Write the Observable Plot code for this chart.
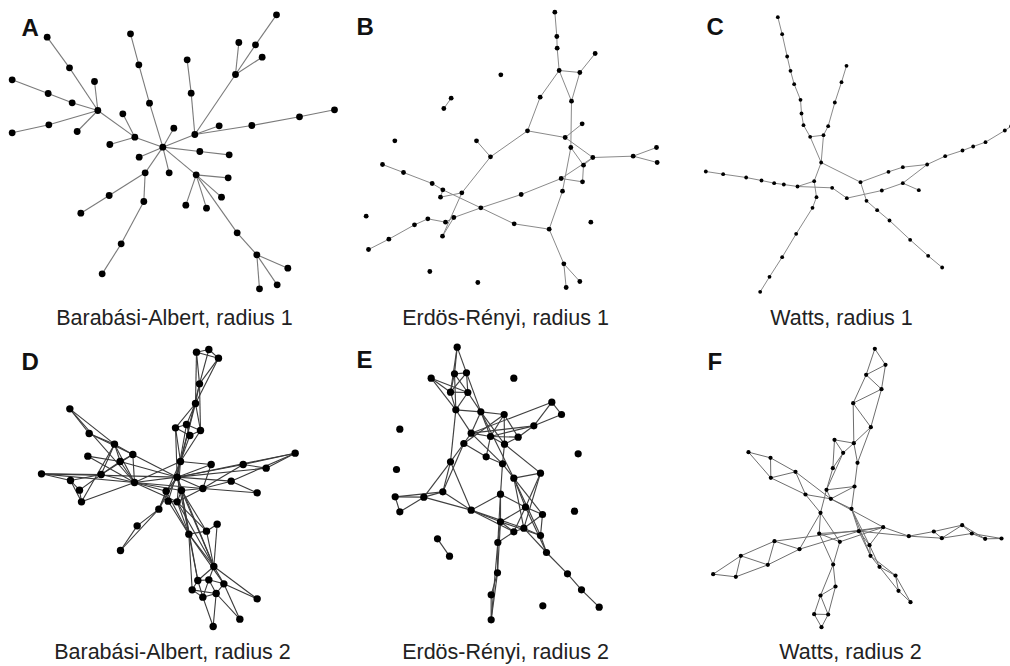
<!DOCTYPE html>
<html><head><meta charset="utf-8">
<script src="https://cdn.jsdelivr.net/npm/d3@7"></script>
<script src="https://cdn.jsdelivr.net/npm/@observablehq/plot@0.6"></script>
<style>body{margin:0;background:#fff}#chart{width:1010px;height:666px}</style>
</head><body><div id="chart"></div>
<script>
// Node layouts in layout units (1 unit = 1/3 px), per panel
const nodesA = [[487,440],[292,330],[140,110],[207,202],[35,238],[143,279],[215,307],[282,243],[35,397],[145,373],[230,393],[403,410],[367,340],[328,432],[390,100],[415,193],[447,308],[560,178],[572,278],[583,402],[705,222],[715,126],[765,133],[828,43],[785,170],[656,376],[754,375],[897,349],[1002,328],[520,383],[598,453],[686,463],[416,470],[506,517],[434,517],[326,585],[241,638],[430,603],[362,730],[305,820],[587,523],[683,532],[663,590],[556,614],[618,623],[710,697],[769,763],[862,803],[830,853],[777,865]];
const edgesA = [[2,3],[3,1],[4,5],[5,6],[6,1],[7,1],[8,9],[9,1],[10,1],[1,11],[11,0],[12,11],[13,11],[14,15],[15,16],[16,0],[17,18],[18,19],[19,0],[19,20],[20,21],[20,22],[22,23],[20,24],[19,25],[19,26],[26,27],[27,28],[0,29],[0,30],[30,31],[0,32],[0,33],[0,34],[34,35],[35,36],[34,37],[37,38],[38,39],[0,40],[40,41],[40,42],[40,43],[40,44],[40,45],[45,46],[46,47],[46,48],[46,49]];

const nodesB = [[613,35],[619,108],[620,143],[626,210],[688,216],[734,159],[663,302],[569,290],[451,223],[302,293],[280,324],[531,391],[644,411],[695,370],[661,441],[727,471],[848,467],[918,441],[920,486],[699,494],[696,544],[632,534],[636,572],[512,582],[596,686],[491,670],[391,622],[420,469],[378,421],[133,421],[96,492],[159,516],[245,549],[277,568],[270,590],[334,577],[310,651],[285,665],[276,707],[232,655],[192,673],[115,716],[54,747],[47,647],[238,813],[382,846],[640,790],[688,843],[647,861],[721,665]];
const edgesB = [[0,1],[1,2],[2,3],[3,4],[4,5],[3,6],[4,6],[3,7],[7,11],[11,27],[27,28],[27,35],[35,38],[36,38],[36,37],[37,39],[39,40],[40,41],[41,42],[36,26],[9,10],[11,12],[12,13],[12,15],[6,14],[14,19],[14,22],[22,24],[15,16],[16,17],[16,18],[15,19],[19,20],[20,21],[21,15],[21,23],[23,26],[30,31],[31,32],[32,33],[33,26],[26,25],[25,24],[33,34],[34,35],[24,46],[46,48],[46,47]];

const nodesC = [[262,50],[275,101],[290,168],[300,211],[311,251],[330,298],[333,339],[339,374],[359,409],[399,404],[413,377],[433,306],[453,245],[468,196],[392,486],[371,542],[378,590],[366,622],[317,700],[275,770],[237,829],[209,874],[46,513],[98,521],[167,531],[213,540],[251,548],[280,552],[321,558],[425,562],[469,593],[510,545],[528,601],[560,629],[597,660],[659,718],[713,766],[755,801],[574,570],[637,548],[685,569],[710,492],[637,500],[594,514],[764,467],[816,450],[848,438],[885,425],[943,390],[962,377]];
const edgesC = [[0,1],[1,2],[2,3],[3,4],[4,5],[5,6],[6,7],[7,8],[8,9],[9,10],[10,11],[11,12],[12,13],[8,14],[9,14],[14,31],[14,15],[15,28],[15,16],[16,17],[17,18],[18,19],[19,20],[20,21],[22,23],[23,24],[24,25],[25,26],[26,27],[27,28],[28,29],[29,30],[30,38],[38,39],[39,40],[39,41],[31,43],[43,42],[42,41],[41,44],[44,45],[45,46],[46,47],[47,48],[48,49],[31,32],[32,33],[33,34],[34,35],[35,36],[36,37]];

const nodesD = [[588,65],[625,57],[654,83],[597,160],[585,219],[525,292],[558,282],[600,300],[568,315],[208,235],[266,309],[342,341],[262,377],[397,372],[359,393],[123,430],[210,450],[237,479],[243,514],[302,432],[402,456],[540,393],[530,440],[543,480],[497,482],[503,512],[530,514],[475,536],[607,474],[632,402],[728,402],[797,413],[884,368],[692,452],[770,487],[410,586],[360,660],[565,611],[618,602],[650,581],[640,708],[592,750],[625,748],[670,760],[575,778],[607,800],[647,789],[770,805],[718,866],[638,888]];
const edgesD = [[0,1],[1,2],[0,2],[0,3],[1,3],[2,3],[2,4],[0,4],[3,4],[4,5],[4,6],[4,7],[3,7],[5,6],[6,7],[5,8],[8,7],[6,8],[4,21],[5,21],[5,22],[6,22],[8,21],[7,21],[3,21],
[9,10],[9,11],[9,20],[10,11],[10,13],[11,13],[11,14],[11,20],[11,18],[12,14],[12,20],[13,14],[13,20],[14,20],[13,22],[14,22],[15,16],[15,19],[15,22],[15,20],[16,17],[16,19],[17,18],[16,18],[17,19],[18,20],[19,20],[19,14],[19,13],[11,19],
[20,22],[20,24],[20,26],[20,28],[20,23],[20,21],[21,22],[22,23],[22,24],[23,26],[24,25],[25,26],[24,27],[27,35],[35,36],[27,36],[27,22],[27,21],[25,21],[26,21],[23,28],[22,28],[26,28],[21,29],[22,29],[28,29],[28,30],[22,30],[30,31],[30,32],[31,32],[33,32],[28,33],[33,34],[28,34],[22,33],[22,32],[22,31],
[22,37],[24,37],[23,37],[26,37],[26,38],[23,38],[37,38],[38,39],[39,40],[37,40],[23,40],[26,40],[22,40],[37,41],[37,44],[40,41],[40,42],[40,43],[41,42],[42,43],[41,44],[44,45],[45,46],[46,43],[42,46],[42,45],[41,45],[44,46],[43,47],[40,47],[43,48],[46,48],[45,49],[46,49],[37,43],[38,40],[23,41],[25,37]];

const nodesE = [[320,50],[312,130],[348,127],[242,143],[300,185],[352,186],[316,238],[391,244],[461,252],[490,143],[604,215],[633,252],[550,286],[362,308],[420,318],[503,320],[462,341],[340,339],[407,379],[456,400],[300,394],[148,296],[138,417],[683,370],[490,443],[570,428],[450,491],[277,484],[220,500],[134,499],[148,544],[362,539],[525,530],[576,552],[450,574],[490,604],[520,593],[570,615],[442,636],[588,666],[651,730],[693,778],[746,830],[441,727],[422,793],[422,868],[261,625],[297,677],[577,826],[672,542]];
const edgesE = [[0,1],[0,2],[0,4],[1,2],[1,4],[1,5],[2,5],[2,4],[3,4],[3,5],[3,6],[4,5],[4,6],[5,6],[5,7],[1,6],[6,7],[2,7],[6,13],[6,20],[7,13],[7,14],[7,8],[7,16],[7,24],[8,14],[8,15],[8,16],[13,14],[13,17],[13,12],[14,15],[14,16],[14,12],[15,16],[15,12],[12,10],[12,11],[10,11],[13,10],[17,20],[17,18],[17,8],[18,19],[18,14],[16,19],[19,24],[19,26],[13,19],[20,27],[20,28],[20,31],[27,29],[27,28],[28,29],[29,30],[30,28],[28,31],[27,31],[17,27],[31,26],[31,34],[31,36],[26,34],[26,32],[24,25],[24,32],[24,36],[24,33],[25,32],[25,36],[16,25],[32,33],[32,35],[32,34],[33,37],[34,35],[34,38],[35,36],[36,37],[36,33],[34,37],[35,38],[37,39],[36,39],[32,39],[39,40],[40,41],[41,42],[38,43],[34,43],[43,44],[44,45],[38,45],[43,45],[26,38],[31,35],[46,47],[24,37]];

const nodesF = [[553,55],[585,103],[527,133],[573,176],[488,218],[541,290],[490,338],[432,328],[458,367],[501,397],[427,413],[492,468],[408,478],[421,505],[483,535],[390,547],[174,365],[240,382],[241,442],[315,424],[345,492],[578,590],[505,602],[386,609],[448,634],[537,644],[540,676],[655,617],[730,603],[754,623],[815,584],[844,609],[884,625],[933,624],[252,632],[327,656],[151,676],[232,703],[68,731],[136,739],[428,702],[567,709],[615,735],[624,781],[660,815],[435,768],[390,795],[371,851],[413,852],[393,890]];
const edgesF = [[0,1],[0,2],[1,2],[1,3],[2,3],[2,4],[3,4],[3,5],[4,5],[4,6],[5,6],[5,9],[6,7],[6,8],[7,8],[7,10],[8,10],[6,9],[8,12],[9,11],[10,12],[11,14],[11,13],[11,12],[12,13],[12,15],[16,17],[16,18],[17,18],[17,19],[18,19],[18,20],[19,20],[19,13],[20,13],[13,14],[13,21],[14,22],[14,25],[14,26],[15,23],[15,20],[15,35],[15,24],[23,24],[23,40],[24,40],[23,22],[24,21],[21,22],[21,27],[22,27],[27,28],[27,29],[28,29],[28,30],[29,30],[29,31],[30,31],[31,32],[30,32],[31,33],[32,33],[34,21],[35,22],[34,35],[34,36],[34,37],[35,37],[36,37],[36,38],[36,39],[37,39],[38,39],[40,45],[40,46],[45,46],[46,47],[46,48],[47,48],[47,49],[48,49],[45,48],[25,26],[25,41],[26,41],[26,42],[41,42],[41,43],[42,43],[42,44],[43,44],[22,25],[22,26],[21,25]];

const panelKeys = ["A","B","C","D","E","F"];
const panelTitles = ["Barabási-Albert, radius 1","Erdös-Rényi, radius 1","Watts, radius 1","Barabási-Albert, radius 2","Erdös-Rényi, radius 2","Watts, radius 2"];

// layout / style per panel
const panels = [
  {key:panelKeys[0], title:panelTitles[0], nodes:nodesA, edges:edgesA, ox:0,   oy:0,   r:3.4, stroke:"#7a7a7a", sw:1.1, lx:174, ly:324, kx:21,  ky:18},
  {key:panelKeys[1], title:panelTitles[1], nodes:nodesB, edges:edgesB, ox:350, oy:0,   r:2.4, stroke:"#8a8a8a", sw:1.0, lx:505, ly:324, kx:356, ky:17},
  {key:panelKeys[2], title:panelTitles[2], nodes:nodesC, edges:edgesC, ox:690, oy:0,   r:1.9, stroke:"#8a8a8a", sw:1.0, lx:841, ly:324, kx:706, ky:17},
  {key:panelKeys[3], title:panelTitles[3], nodes:nodesD, edges:edgesD, ox:0,   oy:330, r:3.7, stroke:"#3a3a3a", sw:1.1, lx:172, ly:658, kx:21,  ky:352},
  {key:panelKeys[4], title:panelTitles[4], nodes:nodesE, edges:edgesE, ox:350, oy:330, r:3.6, stroke:"#404040", sw:1.15, lx:505, ly:658, kx:356, ky:350},
  {key:panelKeys[5], title:panelTitles[5], nodes:nodesF, edges:edgesF, ox:690, oy:330, r:2.1, stroke:"#6e6e6e", sw:1.0, lx:850, ly:658, kx:707, ky:352}
];

const U = 1/3;
const nodeRows = [], edgeRows = [];
for (const p of panels) {
  p.nodes.forEach(([u, v]) => nodeRows.push({panel: p.key, x: p.ox + u * U, y: p.oy + v * U, r: p.r}));
  p.edges.forEach(([a, b]) => {
    const s = p.nodes[a], t = p.nodes[b];
    edgeRows.push({panel: p.key, x1: p.ox + s[0] * U, y1: p.oy + s[1] * U, x2: p.ox + t[0] * U, y2: p.oy + t[1] * U, stroke: p.stroke, sw: p.sw});
  });
}

const chart = Plot.plot({
  width: 1010, height: 666, margin: 0,
  style: {fontFamily: "'Liberation Sans', Arial, Helvetica, sans-serif", background: "#fff"},
  x: {domain: [0, 1010], range: [0, 1010], axis: null},
  y: {domain: [0, 666], range: [0, 666], axis: null},
  color: {type: "identity"},
  r: {type: "identity"},
  marks: [
    Plot.link(edgeRows, {x1: "x1", y1: "y1", x2: "x2", y2: "y2", stroke: "stroke", strokeWidth: "sw"}),
    Plot.dot(nodeRows, {x: "x", y: "y", r: "r", fill: "#000"}),
    Plot.text(panels, {x: "kx", y: "ky", text: "key", textAnchor: "start", lineAnchor: "top", fontSize: 24, fontWeight: "bold", fill: "#111"}),
    Plot.text(panels, {x: "lx", y: "ly", text: "title", lineAnchor: "bottom", fontSize: 21.5, fill: "#222"})
  ]
});
document.getElementById("chart").appendChild(chart);
</script>
</body></html>
